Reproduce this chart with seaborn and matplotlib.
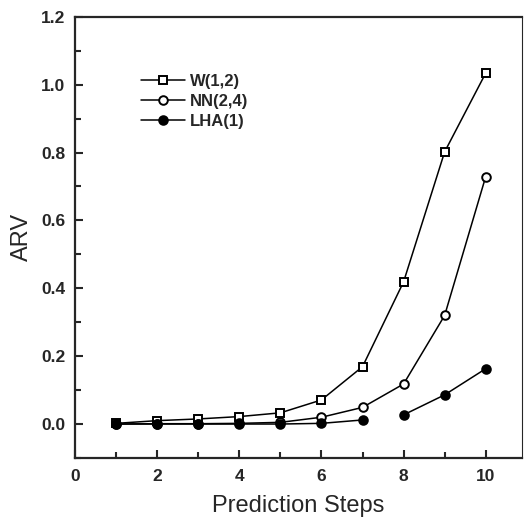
import numpy as np
import pandas as pd
import matplotlib.pyplot as plt
import seaborn as sns
from matplotlib.ticker import MultipleLocator

steps = [1, 2, 3, 4, 5, 6, 7, 8, 9, 10]
w12 = [0.002, 0.010, 0.015, 0.022, 0.033, 0.071, 0.169, 0.419, 0.802, 1.034]
nn24 = [0.0, 0.001, 0.001, 0.002, 0.005, 0.020, 0.049, 0.118, 0.320, 0.729]
lha1 = [0.0, 0.0, 0.0, 0.0, 0.0, 0.002, 0.012, 0.027, 0.086, 0.163]

sns.set_style("ticks")
plt.rcParams['font.family'] = ['Liberation Sans', 'DejaVu Sans']

fig = plt.figure(figsize=(5.25, 5.24), dpi=100)
ax = fig.add_axes([0.143, 0.126, 0.851, 0.842])

df_w = pd.DataFrame({'step': steps, 'arv': w12})
df_nn = pd.DataFrame({'step': steps, 'arv': nn24})
df_lha = pd.DataFrame({'step': steps, 'arv': lha1})

style = dict(color='black', linewidth=1.1, markersize=6.2, markeredgewidth=1.4)
sns.lineplot(data=df_w, x='step', y='arv', ax=ax, marker='s', markerfacecolor='white',
             markeredgecolor='black', label='W(1,2)', **style)
sns.lineplot(data=df_nn, x='step', y='arv', ax=ax, marker='o', markerfacecolor='white',
             markeredgecolor='black', label='NN(2,4)', **style)
# LHA line is broken between step 7 and 8
sns.lineplot(data=df_lha.iloc[:7], x='step', y='arv', ax=ax, marker='o', markerfacecolor='black',
             markeredgecolor='black', label='LHA(1)', **style)
sns.lineplot(data=df_lha.iloc[7:], x='step', y='arv', ax=ax, marker='o', markerfacecolor='black',
             markeredgecolor='black', legend=False, **style)

ax.set_xlim(0, 10.88)
ax.set_ylim(-0.1, 1.2)
ax.xaxis.set_major_locator(MultipleLocator(2))
ax.xaxis.set_minor_locator(MultipleLocator(1))
ax.yaxis.set_major_locator(MultipleLocator(0.2))
ax.yaxis.set_minor_locator(MultipleLocator(0.1))
ax.tick_params(which='both', direction='in', width=1.5, labelsize=12.5)
ax.tick_params(which='major', length=6)
ax.tick_params(which='minor', length=4)
ax.tick_params(axis='x', pad=8)
ax.tick_params(axis='y', pad=7)
ax.set_xticks([0, 2, 4, 6, 8, 10])
ax.set_xticklabels(['0', '2', '4', '6', '8', '10'], fontweight='bold')
ax.set_yticks([0.0, 0.2, 0.4, 0.6, 0.8, 1.0, 1.2])
ax.set_yticklabels(['0.0', '0.2', '0.4', '0.6', '0.8', '1.0', '1.2'], fontweight='bold')
for s in ax.spines.values():
    s.set_linewidth(1.6)
ax.spines['right'].set_linewidth(0.8)

ax.set_xlabel('Prediction Steps', fontsize=17, labelpad=8)
ax.set_ylabel('ARV', fontsize=17, labelpad=6)

leg = ax.legend(loc='upper left', bbox_to_anchor=(0.115, 0.905), frameon=False,
                handlelength=2.6, labelspacing=0.3, handletextpad=0.3,
                prop={'weight': 'bold', 'size': 12})

fig.savefig('out.png', dpi=100)
